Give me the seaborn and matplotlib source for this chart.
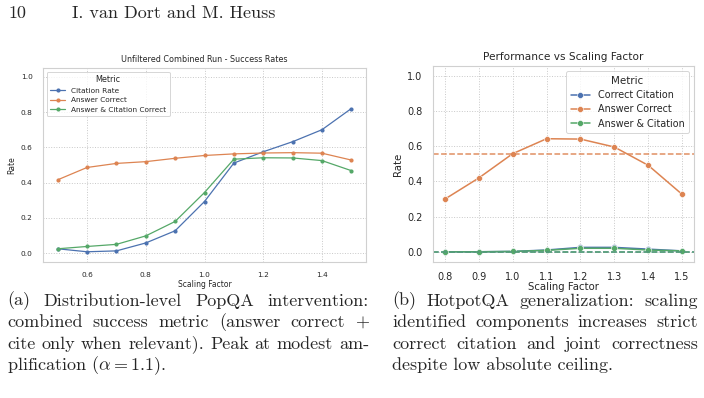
import pandas as pd
import seaborn as sns
import matplotlib.pyplot as plt

# left panel: PopQA combined run
scale_a = [0.5, 0.6, 0.7, 0.8, 0.9, 1.0, 1.1, 1.2, 1.3, 1.4, 1.5]
citation_rate = [0.025, 0.008, 0.013, 0.058, 0.127, 0.293, 0.511, 0.575, 0.632, 0.700, 0.820]
answer_correct_a = [0.416, 0.486, 0.509, 0.519, 0.538, 0.554, 0.563, 0.568, 0.570, 0.567, 0.528]
answer_citation_a = [0.025, 0.038, 0.050, 0.098, 0.180, 0.344, 0.533, 0.541, 0.540, 0.525, 0.468]
metrics_a = ["Citation Rate", "Answer Correct", "Answer & Citation Correct"]

# right panel: HotpotQA
scale_b = [0.8, 0.9, 1.0, 1.1, 1.2, 1.3, 1.4, 1.5]
correct_citation = [0.0, 0.0, 0.002, 0.010, 0.025, 0.025, 0.015, 0.005]
answer_correct_b = [0.299, 0.419, 0.557, 0.642, 0.640, 0.595, 0.491, 0.326]
answer_citation_b = [0.0, 0.0, 0.002, 0.008, 0.020, 0.020, 0.010, 0.005]
metrics_b = ["Correct Citation", "Answer Correct", "Answer & Citation"]
baselines_b = [0.0, 0.557, 0.0]

caption_a = ["(a) Distribution-level PopQA intervention:",
             "combined success metric (answer correct +",
             "cite only when relevant). Peak at modest am-",
             r"plification ($\alpha = 1.1$)."]
caption_b = ["(b) HotpotQA generalization: scaling",
             "identified components increases strict",
             "correct citation and joint correctness",
             "despite low absolute ceiling."]

df_a = pd.DataFrame({
    "Scaling Factor": scale_a * 3,
    "Rate": citation_rate + answer_correct_a + answer_citation_a,
    "Metric": [m for m in metrics_a for _ in scale_a],
})
df_b = pd.DataFrame({
    "Scaling Factor": scale_b * 3,
    "Rate": correct_citation + answer_correct_b + answer_citation_b,
    "Metric": [m for m in metrics_b for _ in scale_b],
})

sns.set_theme(style="whitegrid")
plt.rcParams["mathtext.fontset"] = "cm"
pal = sns.color_palette("deep", 3)

fig = plt.figure(figsize=(7.04, 3.98), dpi=100)
ax1 = fig.add_axes([43 / 704, 136 / 398, 323 / 704, 194 / 398])
ax2 = fig.add_axes([433 / 704, 136 / 398, 261 / 704, 196 / 398])

# (a)
sns.lineplot(data=df_a, x="Scaling Factor", y="Rate", hue="Metric", marker="o",
             palette=pal, linewidth=0.9, markersize=3, markeredgewidth=0, ax=ax1)
ax1.set_ylim(-0.05, 1.05)
ax1.set_title("Unfiltered Combined Run - Success Rates", fontsize=5.8, pad=4)
ax1.set_xlabel("Scaling Factor", fontsize=5.5, labelpad=1)
ax1.set_ylabel("Rate", fontsize=5.5, labelpad=3)
ax1.tick_params(labelsize=5.3, pad=1.5)
ax1.grid(True, linestyle=":", linewidth=0.7, color="#c8c8c8")
for s in ax1.spines.values():
    s.set_color("#d0d0d0")
    s.set_linewidth(0.8)
leg = ax1.legend(title="Metric", loc="upper left", fontsize=5.3, title_fontsize=5.8,
                 frameon=True, handlelength=2.0, borderpad=0.5, labelspacing=0.45)
leg.get_frame().set_edgecolor("#cccccc")
leg.get_frame().set_linewidth(0.7)

# (b)
sns.lineplot(data=df_b, x="Scaling Factor", y="Rate", hue="Metric", marker="o",
             palette=pal, linewidth=1.1, markersize=4.3, markeredgewidth=0.4,
             markeredgecolor="white", ax=ax2)
for c, b in zip(pal, baselines_b):
    ax2.axhline(b, color=c, linestyle="--", linewidth=1.1, alpha=0.9)
ax2.set_ylim(-0.058, 1.055)
ax2.set_xticks(scale_b)
ax2.set_title("Performance vs Scaling Factor", fontsize=7.6, pad=4)
ax2.set_xlabel("Scaling Factor", fontsize=7.3, labelpad=0)
ax2.set_ylabel("Rate", fontsize=7.3, labelpad=3)
ax2.tick_params(labelsize=7, pad=1.5)
ax2.grid(True, linestyle=":", linewidth=0.7, color="#c8c8c8")
for s in ax2.spines.values():
    s.set_color("#d0d0d0")
    s.set_linewidth(0.8)
leg2 = ax2.legend(title="Metric", loc="upper right", fontsize=6.9, title_fontsize=7.4,
                  frameon=True, handlelength=2.0, borderpad=0.5, labelspacing=0.45)
leg2.get_frame().set_edgecolor("#cccccc")
leg2.get_frame().set_linewidth(0.7)

# page header
fig.text(8 / 704, 1 - 13 / 398, "10", family="cmr10", fontsize=13, va="center")
fig.text(72 / 704, 1 - 13 / 398, "I. van Dort and M. Heuss", family="cmr10",
         fontsize=13, va="center")

# captions, justified word by word
renderer = fig.canvas.get_renderer()
CAP_SIZE = 13


def draw_line(x0, x1, y, line, justify):
    if not justify:
        fig.text(x0 / 704, 1 - y / 398, line, family="cmr10", fontsize=CAP_SIZE,
                 va="center")
        return
    words = line.split(" ")
    arts = [fig.text(0, 1 - y / 398, w, family="cmr10", fontsize=CAP_SIZE, va="center")
            for w in words]
    widths = [a.get_window_extent(renderer).width for a in arts]
    gap = (x1 - x0 - sum(widths)) / (len(words) - 1)
    x = x0
    for a, w in zip(arts, widths):
        a.set_x(x / 704)
        x += w + gap


line_y = [301, 322.5, 344, 365.5]
for i, (la, lb) in enumerate(zip(caption_a, caption_b)):
    draw_line(7, 369, line_y[i], la, i < 3)
    draw_line(392, 698, line_y[i], lb, i < 3)

fig.savefig("out.png", dpi=100)
